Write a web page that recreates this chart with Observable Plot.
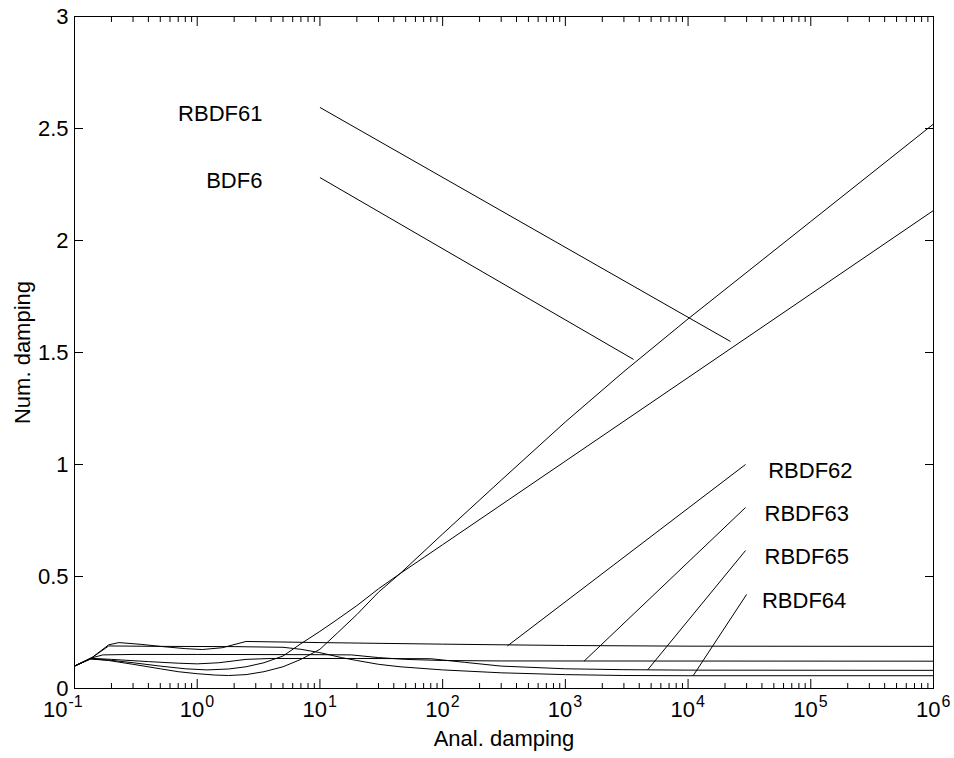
<!DOCTYPE html>
<html>
<head>
<meta charset="utf-8">
<script src="https://cdn.jsdelivr.net/npm/d3@7"></script>
<script src="https://cdn.jsdelivr.net/npm/@observablehq/plot@0.6"></script>
<style>
  body { margin: 0; background: #fff; }
  svg { display: block; }
</style>
</head>
<body>
<div id="chart"></div>
<script>
// Numerical damping against analytical damping for the BDF6 family.
// Each series is a list of [analytical damping, numerical damping] pairs.
const bdf6 = [
  [0.1, 0.1], [0.135, 0.132], [0.19, 0.125], [0.3, 0.108], [0.5, 0.088],
  [0.7, 0.075], [1, 0.066], [1.4, 0.06], [1.8, 0.058], [2.5, 0.062],
  [3.5, 0.075], [5, 0.097], [7, 0.13], [10, 0.175], [14, 0.25],
  [20, 0.33], [30, 0.43], [45, 0.513], [100, 0.69], [300, 0.93],
  [1000, 1.19], [3000, 1.415], [1e4, 1.65], [1e5, 2.085], [1e6, 2.52]
];
const rbdf61 = [
  [0.1, 0.1], [0.135, 0.132], [0.19, 0.127], [0.3, 0.115], [0.5, 0.1],
  [0.8, 0.088], [1.2, 0.083], [1.8, 0.087], [2.5, 0.097], [3.5, 0.115],
  [5, 0.145], [7, 0.2], [10, 0.255], [14, 0.31], [20, 0.37],
  [30, 0.445], [45, 0.513], [100, 0.642], [1000, 1.015], [1e4, 1.388],
  [1e5, 1.761], [1e6, 2.134]
];
const rbdf62 = [
  [0.1, 0.1], [0.135, 0.133], [0.19, 0.195], [0.23, 0.205], [0.35, 0.197],
  [0.5, 0.188], [0.8, 0.178], [1.1, 0.174], [1.6, 0.182], [2.5, 0.21],
  [10, 0.205], [100, 0.198], [1000, 0.192], [1e4, 0.189], [1e6, 0.188]
];
const rbdf63 = [
  [0.1, 0.1], [0.135, 0.135], [0.17, 0.15], [0.3, 0.152], [1, 0.152],
  [10, 0.151], [18, 0.15], [30, 0.138], [50, 0.13], [100, 0.125],
  [300, 0.123], [1e6, 0.122]
];
const rbdf64 = [
  [0.1, 0.1], [0.135, 0.133], [0.19, 0.19], [0.5, 0.188], [2, 0.187],
  [5, 0.184], [7, 0.175], [10, 0.16], [15, 0.138], [20, 0.125],
  [30, 0.108], [45, 0.097], [100, 0.083], [300, 0.07], [1000, 0.062],
  [3000, 0.058], [1e4, 0.057], [1e6, 0.057]
];
const rbdf65 = [
  [0.1, 0.1], [0.135, 0.135], [0.2, 0.13], [0.4, 0.12], [0.7, 0.113],
  [1, 0.11], [1.5, 0.115], [2.5, 0.13], [4, 0.134], [20, 0.134],
  [80, 0.133], [150, 0.117], [300, 0.1], [1000, 0.088], [3000, 0.084],
  [1e4, 0.082], [1e6, 0.081]
];

// Curve labels and the leader lines joining each label to its curve.
const labelNames = ["RBDF61", "BDF6", "RBDF62", "RBDF63", "RBDF65", "RBDF64"];
const labelX     = [3.4, 3.4, 4.5e4, 4.2e4, 4.2e4, 4.0e4];
const labelY     = [2.567, 2.268, 0.973, 0.781, 0.589, 0.393];
const labelSide  = ["left", "left", "right", "right", "right", "right"];
const leaderX1 = [10, 10, 337, 1420, 4680, 1.1e4];
const leaderY1 = [2.594, 2.281, 0.19, 0.122, 0.083, 0.057];
const leaderX2 = [2.22e4, 3.6e3, 2.94e4, 2.94e4, 2.94e4, 3.0e4];
const leaderY2 = [1.549, 1.469, 1.0, 0.808, 0.616, 0.42];

// Axes
const xExponents = [-1, 0, 1, 2, 3, 4, 5, 6];
const yTicks = [0, 0.5, 1, 1.5, 2, 2.5, 3];
const yTickLabels = ["0", "0.5", "1", "1.5", "2", "2.5", "3"];
const xTitle = "Anal. damping";
const yTitle = "Num. damping";

const series = [bdf6, rbdf61, rbdf62, rbdf63, rbdf64, rbdf65];
const curves = series.flatMap((s, k) => s.map(([x, y]) => ({x, y, k})));
const labels = labelNames.map((name, i) => ({name, x: labelX[i], y: labelY[i], side: labelSide[i]}));
const leaders = labelNames.map((name, i) => ({x1: leaderX1[i], y1: leaderY1[i], x2: leaderX2[i], y2: leaderY2[i]}));
const majorX = xExponents.map(e => Math.pow(10, e));
const minorX = xExponents.slice(0, -1).flatMap(e => d3.range(2, 10).map(m => m * Math.pow(10, e)));
const negExp = xExponents.filter(e => e < 0);
const posExp = xExponents.filter(e => e >= 0);

const font = "Liberation Sans, Arial, Helvetica, sans-serif";
const fs = 22;

// "10" followed by a raised exponent, as a pair of text marks
function powerLabels(exps, shift) {
  return [
    Plot.text(exps, {x: (e) => Math.pow(10, e), text: () => "10", frameAnchor: "bottom",
      textAnchor: "end", dx: shift, dy: 28, fontSize: fs, fill: "#000"}),
    Plot.text(exps, {x: (e) => Math.pow(10, e), text: (e) => String(e), frameAnchor: "bottom",
      textAnchor: "start", dx: shift + 1, dy: 18, fontSize: 16, fill: "#000"})
  ];
}

const chart = Plot.plot({
  width: 954,
  height: 758,
  marginTop: 16,
  marginRight: 21,
  marginBottom: 70,
  marginLeft: 74,
  style: {fontFamily: font, background: "#fff", color: "#000"},
  x: {type: "log", domain: [0.1, 1e6]},
  y: {domain: [0, 3]},
  marks: [
    // inward ticks on all four sides
    Plot.axisX({anchor: "bottom", ticks: majorX, tickSize: -9, tickFormat: () => "", label: null}),
    Plot.axisX({anchor: "top", ticks: majorX, tickSize: -9, tickFormat: () => "", label: null}),
    Plot.axisX({anchor: "bottom", ticks: minorX, tickSize: -5, tickFormat: () => "", label: null}),
    Plot.axisX({anchor: "top", ticks: minorX, tickSize: -5, tickFormat: () => "", label: null}),
    Plot.axisY({anchor: "left", ticks: yTicks, tickSize: -9, tickFormat: () => "", label: null}),
    Plot.axisY({anchor: "right", ticks: yTicks, tickSize: -9, tickFormat: () => "", label: null}),
    // y tick labels
    Plot.axisY({anchor: "left", ticks: yTicks, tickSize: 0, tickPadding: 6, label: null,
      tickFormat: (d) => yTickLabels[yTicks.indexOf(d)], fontSize: fs}),
    // x tick labels
    ...powerLabels(negExp, -7),
    ...powerLabels(posExp, 7),
    // axis titles
    Plot.text([xTitle], {frameAnchor: "bottom", textAnchor: "middle", dy: 57, fontSize: fs, fill: "#000"}),
    Plot.text([yTitle], {frameAnchor: "left", textAnchor: "middle", dx: -52, rotate: -90, fontSize: fs, fill: "#000"}),
    // curves
    Plot.line(curves, {x: "x", y: "y", z: "k", stroke: "#000", strokeWidth: 1}),
    // leaders and labels
    Plot.link(leaders, {x1: "x1", y1: "y1", x2: "x2", y2: "y2", stroke: "#000", strokeWidth: 1}),
    Plot.text(labels.filter(d => d.side === "left"), {x: "x", y: "y", text: "name", textAnchor: "end", fontSize: fs, fill: "#000"}),
    Plot.text(labels.filter(d => d.side === "right"), {x: "x", y: "y", text: "name", textAnchor: "start", fontSize: fs, fill: "#000"}),
    Plot.frame({stroke: "#000", strokeWidth: 1})
  ]
});

document.getElementById("chart").append(chart);
</script>
</body>
</html>
